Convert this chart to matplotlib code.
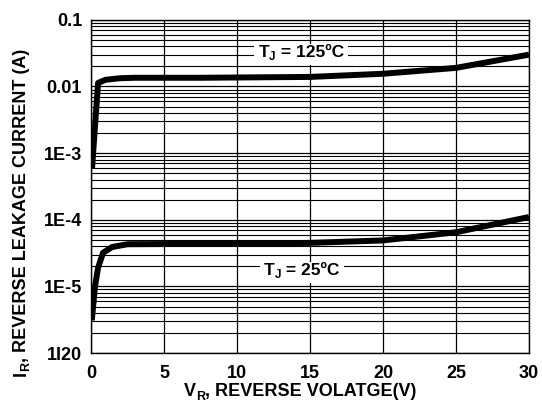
import matplotlib
matplotlib.use("Agg")
import matplotlib.pyplot as plt
from matplotlib.patches import Rectangle
from matplotlib.ticker import LogLocator, FixedLocator, NullFormatter

plt.rcParams['font.family'] = ['Liberation Sans', 'DejaVu Sans']
plt.rcParams['font.weight'] = 'bold'

# Data
v_125 = [0.07, 0.48, 1.0, 2.0, 3.0, 7.5, 15, 20, 25, 30]
i_125 = [6.0e-4, 0.0113, 0.0126, 0.0133, 0.0135, 0.0135, 0.0139, 0.0155, 0.019, 0.030]
v_25 = [0.05, 0.27, 0.48, 0.82, 1.44, 2.5, 7.5, 15, 20, 25, 30]
i_25 = [3.1e-6, 1.0e-5, 1.9e-5, 3.2e-5, 3.9e-5, 4.3e-5, 4.35e-5, 4.5e-5, 4.9e-5, 6.5e-5, 1.1e-4]

x_ticks = [0, 5, 10, 15, 20, 25, 30]
y_ticks = [1e-6, 1e-5, 1e-4, 1e-3, 1e-2, 1e-1]
y_tick_labels = ["1I20", "1E-5", "1E-4", "1E-3", "0.01", "0.1"]
label_125 = [("T", 0), ("J", 1), (" = 125ºC", 0)]
label_25 = [("T", 0), ("J", 1), (" = 25ºC", 0)]
x_label = [("V", 0), ("R", 1), (", REVERSE VOLATGE(V)", 0)]
y_label = [("I", 0), ("R", 1), (", REVERSE LEAKAGE CURRENT (A)", 0)]

W, H = 542, 404
fig = plt.figure(figsize=(W / 100, H / 100), dpi=100)
ax = fig.add_axes([0.168, 0.126, 0.808, 0.825])

ax.plot(v_125, i_125, color='black', lw=4.3, solid_capstyle='butt', zorder=3)
ax.plot(v_25, i_25, color='black', lw=4.3, solid_capstyle='butt', zorder=3)

ax.set_yscale('log')
ax.set_xlim(0, 30)
ax.set_ylim(1e-6, 0.1)
ax.xaxis.set_major_locator(FixedLocator(x_ticks))
ax.set_xticklabels([str(t) for t in x_ticks], fontsize=13, fontweight='bold')
ax.yaxis.set_major_locator(FixedLocator(y_ticks))
ax.set_yticklabels(y_tick_labels, fontsize=13, fontweight='bold')
ax.yaxis.set_minor_locator(LogLocator(base=10, subs=range(2, 10)))
ax.yaxis.set_minor_formatter(NullFormatter())
ax.tick_params(which='both', length=0)
ax.tick_params(axis='y', pad=6.5)
ax.tick_params(axis='x', pad=8.5)

ax.grid(True, which='major', axis='both', color='black', lw=0.9)
ax.grid(True, which='minor', axis='y', color='black', lw=0.8)
for s in ax.spines.values():
    s.set_linewidth(1.0)

renderer = fig.canvas.get_renderer()


def compose(pieces, cx, base, size=13, sub_size=9, sub_drop=3.5, rotated=False,
            bg=False, zorder=6):
    """Draw a label made of normal and subscript pieces, centred on cx (pixels)."""
    widths = []
    for s, sub in pieces:
        t = fig.text(0, 0, s, fontsize=sub_size if sub else size, fontweight='bold')
        widths.append(t.get_window_extent(renderer).width)
        t.remove()
    total = sum(widths)
    pos = cx - total / 2
    arts = []
    for (s, sub), w in zip(pieces, widths):
        fs = sub_size if sub else size
        drop = sub_drop if sub else 0
        if not rotated:
            x, y = pos, base - drop
            t = fig.text(x / W, y / H, s, fontsize=fs, fontweight='bold',
                         ha='left', va='baseline', zorder=zorder)
        else:
            x, y = base + drop, pos
            t = fig.text(x / W, y / H, s, fontsize=fs, fontweight='bold',
                         ha='left', va='baseline', rotation=90,
                         rotation_mode='anchor', zorder=zorder)
        arts.append(t)
        pos += w
    if bg:
        exts = [a.get_window_extent(renderer) for a in arts]
        x0 = min(e.x0 for e in exts) - 4
        x1 = max(e.x1 for e in exts) + 4
        y0 = min(e.y0 for e in exts) - 1
        y1 = max(e.y1 for e in exts) + 1
        fig.patches.append(Rectangle((x0 / W, y0 / H), (x1 - x0) / W, (y1 - y0) / H,
                                     transform=fig.transFigure, facecolor='white',
                                     edgecolor='none', zorder=zorder - 1))
    return arts


compose(label_125, 301, 347, size=12.5, sub_size=8.5, bg=True)
compose(label_25, 302, 129, size=12.5, sub_size=8.5, bg=True)
compose(x_label, 300, 8)
compose(y_label, 192, 26, rotated=True)

fig.savefig("out.png", dpi=100)
